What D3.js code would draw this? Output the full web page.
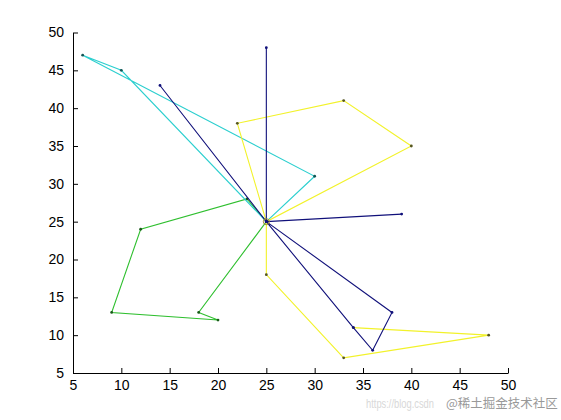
<!DOCTYPE html>
<html>
<head>
<meta charset="utf-8">
<script src="https://cdn.jsdelivr.net/npm/d3@7"></script>
<style>
  body { margin: 0; background: #fff; }
  svg { display: block; font-family: "Liberation Sans", Arial, sans-serif; }
</style>
</head>
<body>
<svg id="chart" width="561" height="420"></svg>
<script>
var width = 561, height = 420;

// 每条路径的顶点 (x, y)
var navyX   = [25, 25, 25, 39, 25, 14, 25, 34, 36, 38, 25];
var navyY   = [25, 48, 25, 26, 25, 43, 25, 11, 8, 13, 25];
var yellowX = [25, 22, 33, 40, 25, 25, 33, 48, 34];
var yellowY = [25, 38, 41, 35, 25, 18, 7, 10, 11];
var cyanX   = [25, 30, 6, 10, 25];
var cyanY   = [25, 31, 47, 45, 25];
var greenX  = [25, 23, 12, 9, 20, 18, 25];
var greenY  = [25, 28, 24, 13, 12, 13, 25];
var centerX = [25];
var centerY = [25];
var ticks = [5, 10, 15, 20, 25, 30, 35, 40, 45, 50];

var x = d3.scaleLinear().domain([5, 50]).range([73, 508]);
var y = d3.scaleLinear().domain([5, 50]).range([373, 32.5]);

var svg = d3.select("#chart");
svg.append("rect").attr("width", width).attr("height", height).attr("fill", "#fff");

var series = [
    { xs: greenX,  ys: greenY,  color: "#2fbf2f", mark: "#1a5a1a" },
    { xs: cyanX,   ys: cyanY,   color: "#2ccfcf", mark: "#115555" },
    { xs: yellowX, ys: yellowY, color: "#f2f22a", mark: "#555522" },
    { xs: navyX,   ys: navyY,   color: "#10107a", mark: "#10107a" }
];

var line = d3.line()
    .x(function(d) { return x(d[0]); })
    .y(function(d) { return y(d[1]); });

series.forEach(function(s) {
    var pts = d3.zip(s.xs, s.ys);
    svg.append("path")
        .attr("d", line(pts))
        .attr("fill", "none")
        .attr("stroke", s.color)
        .attr("stroke-width", 1.1);
    svg.selectAll(null)
        .data(pts)
        .enter().append("circle")
        .attr("cx", function(d) { return x(d[0]); })
        .attr("cy", function(d) { return y(d[1]); })
        .attr("r", 1.4)
        .attr("fill", s.mark);
});

// 中心点
svg.selectAll(null)
    .data(d3.zip(centerX, centerY))
    .enter().append("circle")
    .attr("cx", function(d) { return x(d[0]); })
    .attr("cy", function(d) { return y(d[1]); })
    .attr("r", 3)
    .attr("fill", "none")
    .attr("stroke", "#a08a30")
    .attr("stroke-width", 1);

// 坐标轴 (刻度朝内)
var xAxis = d3.axisBottom(x).tickValues(ticks).tickSizeInner(-5).tickSizeOuter(0).tickPadding(7);
var yAxis = d3.axisLeft(y).tickValues(ticks).tickSizeInner(-5).tickSizeOuter(0).tickPadding(9);

var gx = svg.append("g").attr("transform", "translate(0," + y(5) + ")").call(xAxis);
var gy = svg.append("g").attr("transform", "translate(" + x(5) + ",0)").call(yAxis);

[gx, gy].forEach(function(g) {
    g.selectAll("path, line").attr("stroke", "#000");
    g.selectAll("text").attr("fill", "#000").attr("font-size", 14)
        .attr("font-family", "'Liberation Sans', Arial, sans-serif");
});

// 水印
svg.append("text")
    .attr("x", 366).attr("y", 408)
    .attr("font-size", 12).attr("fill", "#d8d8d8")
    .attr("textLength", 68).attr("lengthAdjust", "spacingAndGlyphs")
    .text("https://blog.csdn");
svg.append("text")
    .attr("x", 446).attr("y", 408)
    .attr("font-size", 12.5).attr("fill", "#999")
    .attr("font-family", "'Noto Sans CJK SC', sans-serif")
    .text("@稀土掘金技术社区");
</script>
</body>
</html>
